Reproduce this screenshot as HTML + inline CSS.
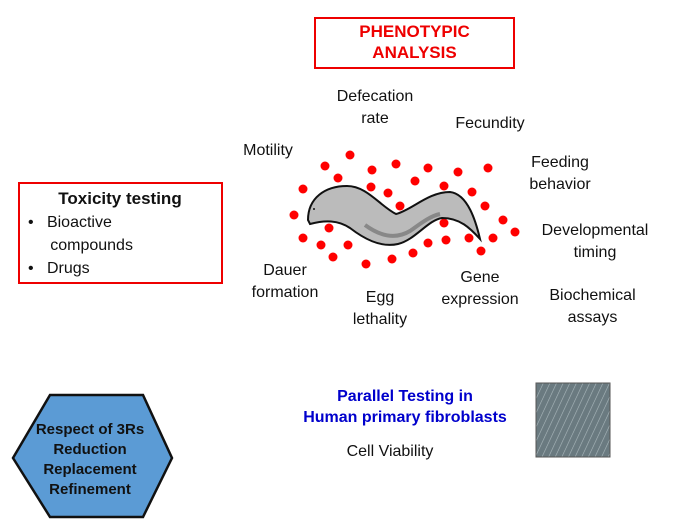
<!DOCTYPE html><html><head><style>
body{margin:0;width:680px;height:522px;background:#fff;position:relative;font-family:"Liberation Sans","DejaVu Sans",sans-serif;overflow:hidden}
.t{position:absolute;font-size:16px;color:#111;text-align:center;line-height:22px;white-space:nowrap}
</style></head><body>
<div style="position:absolute;left:314px;top:17px;width:201px;height:52px;border:2px solid #e00;box-sizing:border-box"></div>
<div class="t" style="left:314px;top:21px;width:201px;color:#e00;font-weight:bold;font-size:17px;line-height:21px">PHENOTYPIC<br>ANALYSIS</div>
<div style="position:absolute;left:18px;top:182px;width:205px;height:102px;border:2px solid #e00;box-sizing:border-box"></div>
<div class="t" style="left:20px;top:188px;width:200px;font-weight:bold;font-size:17px">Toxicity testing</div>
<div class="t" style="left:28px;top:211px;text-align:left;font-size:16px;line-height:23px">•&nbsp;&nbsp;&nbsp;Bioactive<br>&nbsp;&nbsp;&nbsp;&nbsp;&nbsp;compounds<br>•&nbsp;&nbsp;&nbsp;Drugs</div>
<div class="t" style="left:320px;top:86px;width:110px">Defecation<br>rate</div>
<div class="t" style="left:440px;top:113px;width:100px">Fecundity</div>
<div class="t" style="left:228px;top:140px;width:80px">Motility</div>
<div class="t" style="left:510px;top:152px;width:100px">Feeding<br>behavior</div>
<div class="t" style="left:530px;top:220px;width:130px">Developmental<br>timing</div>
<div class="t" style="left:245px;top:260px;width:80px">Dauer<br>formation</div>
<div class="t" style="left:430px;top:267px;width:100px">Gene<br>expression</div>
<div class="t" style="left:340px;top:287px;width:80px">Egg<br>lethality</div>
<div class="t" style="left:530px;top:285px;width:125px">Biochemical<br>assays</div>
<svg style="position:absolute;left:0;top:0" width="680" height="522">
<g fill="#f00">
<circle cx="350" cy="155" r="4.5"/><circle cx="325" cy="166" r="4.5"/><circle cx="372" cy="170" r="4.5"/><circle cx="396" cy="164" r="4.5"/><circle cx="428" cy="168" r="4.5"/><circle cx="458" cy="172" r="4.5"/><circle cx="488" cy="168" r="4.5"/><circle cx="338" cy="178" r="4.5"/><circle cx="415" cy="181" r="4.5"/><circle cx="444" cy="186" r="4.5"/><circle cx="371" cy="187" r="4.5"/><circle cx="388" cy="193" r="4.5"/><circle cx="472" cy="192" r="4.5"/><circle cx="303" cy="189" r="4.5"/><circle cx="400" cy="206" r="4.5"/><circle cx="485" cy="206" r="4.5"/><circle cx="294" cy="215" r="4.5"/><circle cx="503" cy="220" r="4.5"/><circle cx="329" cy="228" r="4.5"/><circle cx="444" cy="223" r="4.5"/><circle cx="303" cy="238" r="4.5"/><circle cx="321" cy="245" r="4.5"/><circle cx="348" cy="245" r="4.5"/><circle cx="428" cy="243" r="4.5"/><circle cx="446" cy="240" r="4.5"/><circle cx="469" cy="238" r="4.5"/><circle cx="493" cy="238" r="4.5"/><circle cx="515" cy="232" r="4.5"/><circle cx="333" cy="257" r="4.5"/><circle cx="366" cy="264" r="4.5"/><circle cx="392" cy="259" r="4.5"/><circle cx="413" cy="253" r="4.5"/><circle cx="481" cy="251" r="4.5"/>
</g>
<path d="M308,220 C308,198 325,186 347,186 C367,186 380,206 396,214 C412,210 428,192 450,192 C468,194 476,222 480,239 C470,228 460,218 442,218 C428,220 415,240 398,244 C380,248 363,238 350,228 C338,220 325,220 310,224 Z" fill="#bbb" stroke="#111" stroke-width="2"/>
<path d="M365,225 C380,236 395,240 410,231 C420,224 430,216 440,214" fill="none" stroke="#888" stroke-width="4"/>
<circle cx="314" cy="209" r="1" fill="#111"/>
<polygon points="50,395 143,395 172,458 143,517 50,517 13,458" fill="#5b9bd5" stroke="#111" stroke-width="2.5"/>
<defs><pattern id="p" width="6" height="10" patternUnits="userSpaceOnUse" patternTransform="rotate(25)"><rect width="6" height="10" fill="#6a7a80"/><line x1="0" y1="0" x2="0" y2="10" stroke="#aab8bc" stroke-width="1.2"/></pattern></defs>
<rect x="536" y="383" width="74" height="74" fill="url(#p)" stroke="#555"/>
</svg>
<div class="t" style="left:20px;top:420px;width:140px;font-weight:bold;font-size:15px;line-height:20px">Respect of 3Rs<br>Reduction<br>Replacement<br>Refinement</div>
<div class="t" style="left:285px;top:386px;width:240px;font-weight:bold;color:#0000cc;font-size:16px;line-height:21px">Parallel Testing in<br>Human primary fibroblasts</div>
<div class="t" style="left:330px;top:441px;width:120px">Cell Viability</div>
</body></html>
